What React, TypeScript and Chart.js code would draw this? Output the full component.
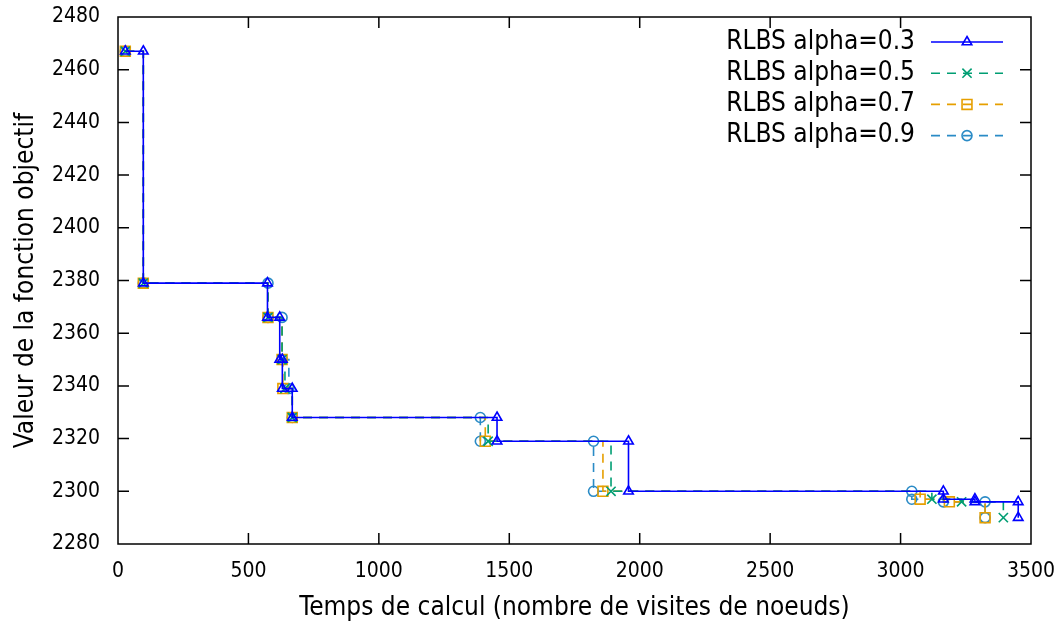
import React, { useEffect, useRef } from "react";
import { Chart, registerables } from "chart.js";
import { drawPoint } from "chart.js/helpers";

Chart.register(...registerables);

// Axis ranges and tick steps
const xRange = [0, 3500];
const xStep = 500;
const yRange = [2280, 2480];
const yStep = 20;

// Series labels
const seriesLabels = [
  "RLBS alpha=0.3",
  "RLBS alpha=0.5",
  "RLBS alpha=0.7",
  "RLBS alpha=0.9",
];

// alpha = 0.3 : time (node visits) and objective value
const alpha03Time = [28, 97, 97, 573, 573, 620, 620, 630, 630, 668, 668, 1453, 1453, 1957, 1957, 3164, 3164, 3285, 3285, 3451, 3451];
const alpha03Value = [2467, 2467, 2379, 2379, 2366, 2366, 2350, 2350, 2339, 2339, 2328, 2328, 2319, 2319, 2300, 2300, 2297, 2297, 2296, 2296, 2290];

// alpha = 0.5
const alpha05Time = [28, 97, 575, 629, 640, 668, 1419, 1890, 3120, 3234, 3394];
const alpha05Value = [2467, 2379, 2366, 2350, 2339, 2328, 2319, 2300, 2297, 2296, 2290];

// alpha = 0.7
const alpha07Time = [28, 97, 575, 629, 632, 668, 1408, 1859, 3075, 3187, 3324];
const alpha07Value = [2467, 2379, 2366, 2350, 2339, 2328, 2319, 2300, 2297, 2296, 2290];

// alpha = 0.9
const alpha09Time = [28, 97, 575, 575, 629, 629, 655, 668, 1389, 1389, 1823, 1823, 3043, 3043, 3164, 3324, 3324];
const alpha09Value = [2467, 2379, 2379, 2366, 2366, 2350, 2339, 2328, 2328, 2319, 2319, 2300, 2300, 2297, 2296, 2296, 2290];

const seriesTimes = [alpha03Time, alpha05Time, alpha07Time, alpha09Time];
const seriesValues = [alpha03Value, alpha05Value, alpha07Value, alpha09Value];

// Drawing styles per series
const seriesColors = ["#0000ff", "#009e73", "#e69f00", "#2a8bc6"];
const seriesDash: number[][] = [[], [9, 7], [9, 7], [9, 7]];
const seriesPointStyles = ["triangle", "crossRot", "rect", "circle"];
const seriesPointRadius = [5.5, 6.5, 7, 5];

const FONT = '"DejaVu Sans Condensed", "DejaVu Sans", sans-serif';

// Frame, mirrored inward ticks and the key in the upper right corner
const framePlugin = {
  id: "frameAndKey",
  afterDraw(chart: any) {
    const { ctx, chartArea } = chart;
    const { left, right, top, bottom } = chartArea;
    const tickLen = 11;
    ctx.save();
    ctx.strokeStyle = "#000";
    ctx.lineWidth = 1.5;
    ctx.setLineDash([]);
    ctx.strokeRect(left, top, right - left, bottom - top);
    const xs = chart.scales.x;
    const ys = chart.scales.y;
    ctx.beginPath();
    xs.ticks.forEach((t: any) => {
      const px = xs.getPixelForValue(t.value);
      if (px <= left + 1 || px >= right - 1) return;
      ctx.moveTo(px, bottom);
      ctx.lineTo(px, bottom - tickLen);
      ctx.moveTo(px, top);
      ctx.lineTo(px, top + tickLen);
    });
    ys.ticks.forEach((t: any) => {
      const py = ys.getPixelForValue(t.value);
      if (py <= top + 1 || py >= bottom - 1) return;
      ctx.moveTo(left, py);
      ctx.lineTo(left + tickLen, py);
      ctx.moveTo(right, py);
      ctx.lineTo(right - tickLen, py);
    });
    ctx.stroke();

    // key
    const textRight = 915;
    const sampleLeft = 931;
    const sampleRight = 1003;
    const rowTop = 42;
    const rowGap = 31.2;
    ctx.font = `26px ${FONT}`;
    ctx.textAlign = "right";
    ctx.textBaseline = "middle";
    seriesLabels.forEach((label, i) => {
      const y = rowTop + i * rowGap;
      ctx.fillStyle = "#000";
      ctx.fillText(label, textRight, y);
      ctx.strokeStyle = seriesColors[i];
      ctx.lineWidth = 1.6;
      ctx.setLineDash(seriesDash[i]);
      ctx.beginPath();
      ctx.moveTo(sampleLeft, y);
      ctx.lineTo(sampleRight, y);
      ctx.stroke();
      ctx.setLineDash([]);
      ctx.fillStyle = "rgba(0,0,0,0)";
      drawPoint(
        ctx,
        {
          pointStyle: seriesPointStyles[i],
          radius: seriesPointRadius[i],
          rotation: 0,
          borderWidth: 1.6,
        } as any,
        (sampleLeft + sampleRight) / 2,
        y
      );
    });
    ctx.restore();
  },
};

const plainNumber = (v: any) => String(v);

const zeroPadding = (scale: any) => {
  scale.paddingTop = 0;
  scale.paddingBottom = 0;
  scale.paddingLeft = 0;
  scale.paddingRight = 0;
};

export default function App() {
  const canvasRef = useRef<HTMLCanvasElement | null>(null);

  useEffect(() => {
    if (!canvasRef.current) return;
    const datasets = seriesLabels.map((label, i) => ({
      label,
      data: seriesTimes[i].map((t, k) => ({ x: t, y: seriesValues[i][k] })),
      borderColor: seriesColors[i],
      backgroundColor: "rgba(0,0,0,0)",
      borderWidth: 1.6,
      borderDash: seriesDash[i],
      stepped: "before" as const,
      pointStyle: seriesPointStyles[i],
      pointRadius: seriesPointRadius[i],
      pointBorderWidth: 1.6,
      pointBorderColor: seriesColors[i],
      pointBackgroundColor: "rgba(0,0,0,0)",
      fill: false,
    }));

    const chart = new Chart(canvasRef.current, {
      type: "line",
      data: { datasets },
      options: {
        animation: false,
        responsive: true,
        maintainAspectRatio: false,
        layout: { padding: { top: 17, right: 32, bottom: 0, left: 0 } },
        plugins: { legend: { display: false }, tooltip: { enabled: false } },
        scales: {
          x: {
            type: "linear",
            min: xRange[0],
            max: xRange[1],
            grid: { display: false, drawTicks: false },
            border: { display: false },
            ticks: {
              stepSize: xStep,
              color: "#000",
              font: { family: FONT, size: 21 },
              padding: 15,
              maxRotation: 0,
              callback: plainNumber,
            },
            title: {
              display: true,
              text: "Temps de calcul (nombre de visites de noeuds)",
              color: "#000",
              font: { family: FONT, size: 26 },
              padding: { top: 0, bottom: 5 },
            },
            afterFit: (scale: any) => {
              scale.height = 85;
              zeroPadding(scale);
            },
          },
          y: {
            type: "linear",
            min: yRange[0],
            max: yRange[1],
            grid: { display: false, drawTicks: false },
            border: { display: false },
            ticks: {
              stepSize: yStep,
              color: "#000",
              font: { family: FONT, size: 21 },
              padding: 18,
              callback: plainNumber,
            },
            title: {
              display: true,
              text: "Valeur de la fonction objectif",
              color: "#000",
              font: { family: FONT, size: 26 },
              padding: { top: 11, bottom: 0 },
            },
            afterFit: (scale: any) => {
              scale.width = 118;
              zeroPadding(scale);
            },
          },
        },
      },
      plugins: [framePlugin],
    });
    return () => chart.destroy();
  }, []);

  return (
    <div style={{ position: "fixed", left: 0, top: 0, width: 1063, height: 629, background: "#fff" }}>
      <canvas ref={canvasRef} />
    </div>
  );
}
